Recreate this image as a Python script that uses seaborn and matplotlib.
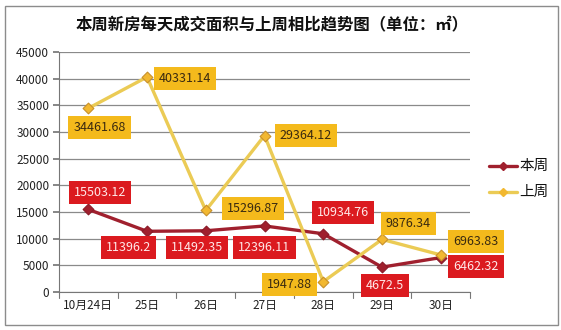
import matplotlib
matplotlib.use("Agg")
import matplotlib.pyplot as plt
import seaborn as sns
import pandas as pd
from matplotlib.patches import Rectangle

days = ["10月24日", "25日", "26日", "27日", "28日", "29日", "30日"]
this_week = [15503.12, 11396.2, 11492.35, 12396.11, 10934.76, 4672.5, 6462.32]
last_week = [34461.68, 40331.14, 15296.87, 29364.12, 1947.88, 9876.34, 6963.83]
series_names = ["本周", "上周"]
y_ticks = [0, 5000, 10000, 15000, 20000, 25000, 30000, 35000, 40000, 45000]

sns.set_theme(style="white")
plt.rcParams["font.family"] = ["Noto Sans CJK SC", "DejaVu Sans"]

df = pd.DataFrame({
    "x": list(range(len(days))) * 2,
    "value": this_week + last_week,
    "series": [series_names[0]] * len(days) + [series_names[1]] * len(days),
})

line_colors = {"本周": "#A0202E", "上周": "#EBCB55"}
marker_face = {"本周": "#A0202E", "上周": "#F2B830"}


def fmt(v):
    return f"{v:.2f}".rstrip("0").rstrip(".")


fig = plt.figure(figsize=(5.61, 3.30), dpi=100)
ax = fig.add_axes([0.105, 0.115, 0.733, 0.727])

sns.lineplot(data=df, x="x", y="value", hue="series", palette=line_colors,
             linewidth=2.4, ax=ax, legend=False, sort=False)
for name in series_names:
    sub = df[df["series"] == name]
    ax.scatter(sub["x"], sub["value"], marker="D", s=30, color=marker_face[name],
               edgecolor="#C8902A" if name == "上周" else "#8A1A28",
               linewidth=0.8, zorder=4)

ax.set_xlim(-0.5, len(days) - 0.5)
ax.set_ylim(0, 45000)
ax.set_yticks(y_ticks)
ax.set_yticklabels([str(t) for t in y_ticks], fontsize=8.5, color="#222222")
ax.set_xticks(range(len(days)))
ax.set_xticklabels(days, fontsize=8.5, color="#222222")
ax.set_xlabel("")
ax.set_ylabel("")
ax.tick_params(axis="x", length=0, pad=5)
ax.tick_params(axis="y", length=4, color="#777777", pad=3, left=True)
for b in [i - 0.5 for i in range(len(days) + 1)]:
    ax.plot([b, b], [0, -1100], color="#777777", lw=0.8, clip_on=False)
ax.yaxis.grid(True, color="#8A8A8A", lw=0.9)
ax.set_axisbelow(True)
for s in ["top", "right"]:
    ax.spines[s].set_visible(False)
ax.spines["left"].set_color("#777777")
ax.spines["bottom"].set_color("#777777")
ax.spines["left"].set_linewidth(0.8)
ax.spines["bottom"].set_linewidth(0.8)

# data labels: (dx in category units, y in data units)
this_off = [(0.2, 18600), (-0.32, 8400), (-0.15, 8400), (0.0, 8400), (0.34, 15000), (0.05, 1200), (0.6, 4700)]
last_off = [(0.19, 30900), (0.65, 40100), (0.8, 15750), (0.7, 29400), (-0.58, 1500), (0.45, 12900), (0.6, 9560)]

for i, v in enumerate(this_week):
    dx, ty = this_off[i]
    ax.text(i + dx, ty, fmt(v), ha="center", va="center", fontsize=9,
            color="#FFE8E8", zorder=6,
            bbox=dict(boxstyle="square,pad=0.4", fc="#DB1A1F", ec="none"))
for i, v in enumerate(last_week):
    dx, ty = last_off[i]
    ax.text(i + dx, ty, fmt(v), ha="center", va="center", fontsize=9,
            color="#3A2A10", zorder=6,
            bbox=dict(boxstyle="square,pad=0.4", fc="#F4BA1C", ec="none"))

# legend
for j, name in enumerate(series_names):
    ly = 1 - (166 + 26 * j) / 330
    fig.lines.append(plt.Line2D([0.872, 0.922], [ly, ly], transform=fig.transFigure,
                                color=line_colors[name], lw=2.4))
    fig.lines.append(plt.Line2D([0.897], [ly], transform=fig.transFigure, marker="D",
                                markersize=4.5, color=marker_face[name], lw=0))
    fig.text(0.926, ly, name, fontsize=10.5, va="center", ha="left", color="#111111")

fig.text(0.485, 1 - 25 / 330, "本周新房每天成交面积与上周相比趋势图（单位：㎡）",
         ha="center", va="center", fontsize=11.8, fontweight="bold", color="#111111")

fig.patches.append(Rectangle((0.009, 0.015), 0.985, 0.968, transform=fig.transFigure,
                             fill=False, ec="#8C8C8C", lw=1.0))

fig.savefig("out.png", dpi=100)
